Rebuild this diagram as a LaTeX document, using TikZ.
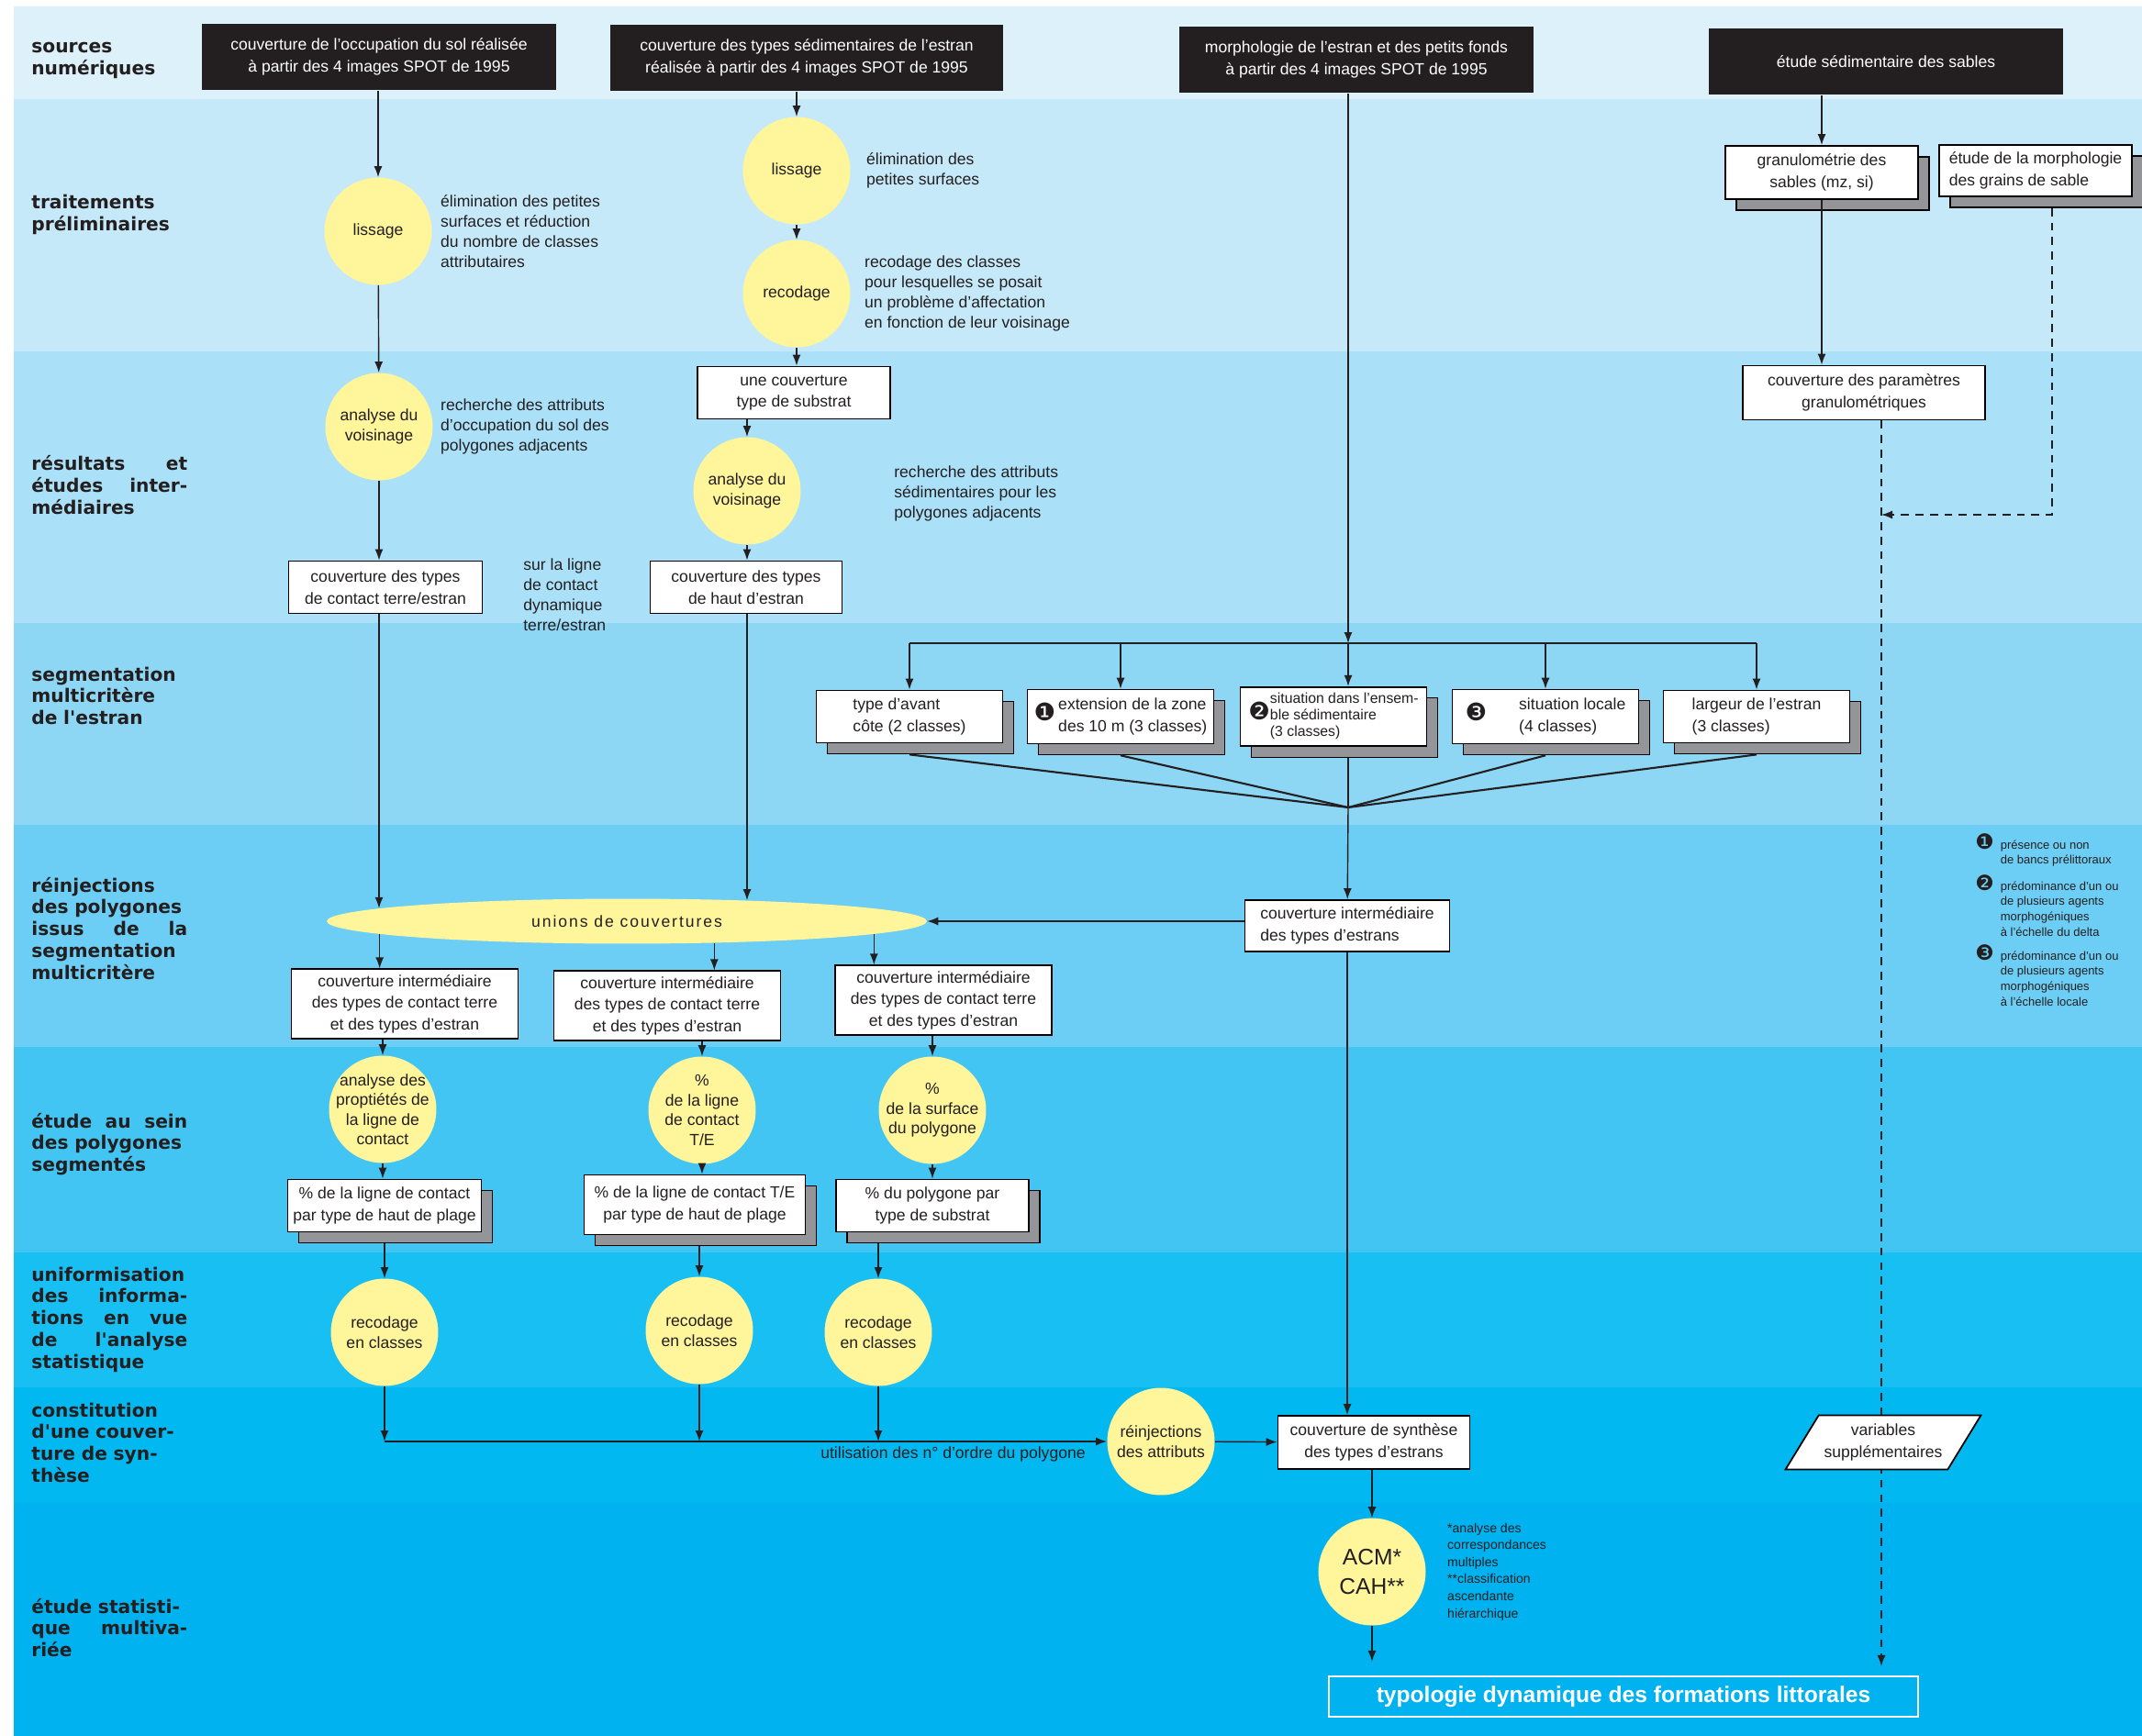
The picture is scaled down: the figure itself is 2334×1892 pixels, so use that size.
\documentclass[tikz,border=0pt]{standalone}
\usepackage{fontspec}
\setmainfont{Liberation Sans}
\newfontfamily\headfont{DejaVu Sans}
\newfontfamily\dingfont{DejaVu Sans}
\usetikzlibrary{arrows.meta,positioning,calc,shapes.geometric,shadows}
\definecolor{BandA}{RGB}{221,241,251}
\definecolor{BandB}{RGB}{198,233,249}
\definecolor{BandC}{RGB}{171,225,248}
\definecolor{BandD}{RGB}{141,215,245}
\definecolor{BandE}{RGB}{109,206,245}
\definecolor{BandF}{RGB}{66,197,243}
\definecolor{BandG}{RGB}{24,191,242}
\definecolor{BandH}{RGB}{2,184,240}
\definecolor{BandI}{RGB}{0,178,239}
\definecolor{Yel}{RGB}{255,245,154}
\definecolor{SrcBlack}{RGB}{35,31,32}
\definecolor{ShadowGray}{RGB}{147,149,152}
\newcommand{\dg}[1]{{\dingfont\fontsize{15}{15}\selectfont #1}}
\newcommand{\legbul}[1]{{\dingfont\fontsize{13}{13}\selectfont #1}\hspace{4pt}}
\tikzset{
  head/.style={anchor=base west,text width=3.4cm,align=left,inner sep=0pt,text=SrcBlack,
               font=\headfont\bfseries\fontsize{11.5}{13.6}\selectfont},
  src/.style={rectangle,fill=SrcBlack,text=white,minimum width=7.74cm,minimum height=1.46cm,
              align=center,font=\fontsize{10}{13.6}\selectfont},
  proc/.style={circle,fill=Yel,minimum size=2.34cm,inner sep=-.8cm,align=center,
               text=SrcBlack,font=\fontsize{10}{12.2}\selectfont},
  box/.style={rectangle,draw=black,line width=1pt,fill=white,align=center,text=SrcBlack,
              minimum height=1.14cm,font=\fontsize{10}{13.4}\selectfont},
  sbox/.style={box,drop shadow={shadow xshift=.24cm,shadow yshift=-.24cm,opacity=1,
               fill=ShadowGray,draw=black,line width=.8pt}},
  note/.style={align=left,inner sep=0pt,text=SrcBlack,font=\fontsize{10}{12.5}\selectfont},
  small/.style={align=left,inner sep=0pt,text=SrcBlack,font=\fontsize{8}{10.6}\selectfont},
  legtxt/.style={anchor=base west,inner sep=0pt,text=SrcBlack,font=\fontsize{7.4}{9.6}\selectfont},
  arr/.style={-{Latex[length=2.4mm,width=1.8mm]},line width=.8pt,SrcBlack},
  bus/.style={line width=1.2pt,SrcBlack},
  dasharr/.style={arr,dash pattern=on 5pt off 4pt},
}
\begin{document}
\begin{tikzpicture}[x=0.02cm,y=-0.02cm]
  \fill[white] (0,0) rectangle (2334,1892);
  \useasboundingbox (0,0) rectangle (2334,1892);
  % bandes
  \fill[BandA] (15,7) rectangle (2334,108);
  \fill[BandB] (15,108) rectangle (2334,383);
  \fill[BandC] (15,383) rectangle (2334,679);
  \fill[BandD] (15,679) rectangle (2334,899);
  \fill[BandE] (15,899) rectangle (2334,1141);
  \fill[BandF] (15,1141) rectangle (2334,1365);
  \fill[BandG] (15,1365) rectangle (2334,1512);
  \fill[BandH] (15,1512) rectangle (2334,1638);
  \fill[BandI] (15,1638) rectangle (2334,1892);

  % titres des bandes
  \node[head] (h1) at (34,58) {sources\\numériques};
  \node[head] (h2) at (34,228) {traitements\\préliminaires};
  \node[head] (h3) at (34,513) {résultats\hfill et\\études\hfill inter-\\médiaires};
  \node[head] (h4) at (34,742) {segmentation\\multicritère\\de l'estran};
  \node[head] (h5) at (34,972) {réinjections\\des polygones\\issus\hfill de\hfill la\\segmentation\\multicritère};
  \node[head] (h6) at (34,1229) {étude\hfill au\hfill sein\\des polygones\\segmentés};
  \node[head] (h7) at (34,1396) {uniformisation\\des\hfill informa-\\tions\hfill en\hfill vue\\de\hfill l'analyse\\statistique};
  \node[head] (h8) at (34,1544) {constitution\\d'une couver-\\ture de syn-\\thèse};
  \node[head] (h9) at (34,1758) {étude statisti-\\que\hfill multiva-\\riée};

  % sources
  \node[src] (src1) at (413,62) {couverture de l'occupation du sol réalisée\\à partir des 4 images SPOT de 1995};
  \node[src,minimum width=8.56cm] (src2) at (879,63) {couverture des types sédimentaires de l'estran\\réalisée à partir des 4 images SPOT de 1995};
  \node[src] (src3) at (1478,65) {morphologie de l'estran et des petits fonds\\à partir des 4 images SPOT de 1995};
  \node[src] (src4) at (2055,67) {étude sédimentaire des sables};

  % colonne occupation du sol
  \node[proc] (lis1) at (412,252) {lissage};
  \node[note,right=.18cm of lis1] (elim1) {élimination des petites\\surfaces et réduction\\du nombre de classes\\attributaires};
  \node[proc] (vois1) at (413,465) {analyse du\\voisinage};
  \node[note,right=.16cm of vois1] (rech1) {recherche des attributs\\d'occupation du sol des\\polygones adjacents};
  \node[box,minimum width=4.22cm] (cont) at (420,640) {couverture des types\\de contact terre/estran};
  \node[note,anchor=west] (surla) at (570,648) {sur la ligne\\de contact\\dynamique\\terre/estran};

  % colonne types sedimentaires
  \node[proc] (lis2) at (868,186) {lissage};
  \node[note,right=.34cm of lis2] (elim2) {élimination des\\petites surfaces};
  \node[proc] (rec0) at (868,320) {recodage};
  \node[note,right=.3cm of rec0] (recod) {recodage des classes\\pour lesquelles se posait\\un problème d'affectation\\en fonction de leur voisinage};
  \node[box,minimum width=4.2cm] (subs) at (865,428) {une couverture\\type de substrat};
  \node[proc] (vois2) at (814,535) {analyse du\\voisinage};
  \node[note,anchor=west] (rech2) at (974,538) {recherche des attributs\\sédimentaires pour les\\polygones adjacents};
  \node[box,minimum width=4.18cm] (haut) at (813,640) {couverture des types\\de haut d'estran};

  % segmentation multicritere
  \node[sbox,minimum width=4.06cm,align=left] (seg1) at (991,781) {type d'avant\\côte (2 classes)};
  \node[sbox,minimum width=4.06cm] (seg2) at (1221,781) {\dg{❶}\,\begin{tabular}{@{}l@{}}extension de la zone\\des 10 m (3 classes)\end{tabular}};
  \node[sbox,minimum width=4.06cm,font=\fontsize{9}{10}\selectfont] (seg3) at (1453,781) {\dg{❷}\begin{tabular}{@{}l@{}}situation dans l'ensem-\\ble sédimentaire\\(3 classes)\end{tabular}};
  \node[sbox,minimum width=4.06cm] (seg4) at (1684,781) {\dg{❸}\hspace{.7cm}\begin{tabular}{@{}l@{}}situation locale\\(4 classes)\end{tabular}};
  \node[sbox,minimum width=4.06cm,align=left] (seg5) at (1914,781) {largeur de l'estran\\(3 classes)};
  \node[box,minimum width=4.46cm,minimum height=1.12cm,align=left] (inter) at (1468,1009) {couverture intermédiaire\\des types d'estrans};

  % legende
  \node[legtxt] (leg1) at (2152,925) {\legbul{❶}\begin{tabular}[t]{@{}l@{}}présence ou non\\de bancs prélittoraux\end{tabular}};
  \node[legtxt] (leg2) at (2152,970) {\legbul{❷}\begin{tabular}[t]{@{}l@{}}prédominance d'un ou\\de plusieurs agents\\morphogéniques\\à l'échelle du delta\end{tabular}};
  \node[legtxt] (leg3) at (2152,1046) {\legbul{❸}\begin{tabular}[t]{@{}l@{}}prédominance d'un ou\\de plusieurs agents\\morphogéniques\\à l'échelle locale\end{tabular}};

  % reinjections
  \node[ellipse,fill=Yel,minimum width=13.08cm,minimum height=.98cm,inner sep=0pt,text=SrcBlack,
        font=\addfontfeature{LetterSpace=11}\fontsize{10}{12}\selectfont] (unions) at (683,1004) {unions de couvertures};
  \node[box,minimum width=4.94cm,minimum height=1.48cm] (int1) at (441,1094) {couverture intermédiaire\\des types de contact terre\\et des types d'estran};
  \node[box,minimum width=4.94cm,minimum height=1.48cm] (int2) at (727,1096) {couverture intermédiaire\\des types de contact terre\\et des types d'estran};
  \node[box,minimum width=4.72cm,minimum height=1.5cm] (int3) at (1028,1090) {couverture intermédiaire\\des types de contact terre\\et des types d'estran};

  % etude au sein des polygones
  \node[proc] (ana) at (417,1209) {analyse des\\proptiétés de\\la ligne de\\contact};
  \node[proc] (pct1) at (765,1210) {\%\\de la ligne\\de contact\\T/E};
  \node[proc] (pct2) at (1016,1210) {\%\\de la surface\\du polygone};
  \node[sbox,minimum width=4.2cm] (pc1) at (419,1314) {\% de la ligne de contact\\par type de haut de plage};
  \node[sbox,minimum width=4.82cm,minimum height=1.3cm] (pc2) at (757,1313) {\% de la ligne de contact T/E\\par type de haut de plage};
  \node[sbox,minimum width=4.2cm] (pc3) at (1016,1314) {\% du polygone par\\type de substrat};
  \coordinate (pc1s) at ([yshift=-.24cm]pc1.south);
  \coordinate (pc2s) at ([yshift=-.24cm]pc2.south);
  \coordinate (pc3s) at ([yshift=-.24cm]pc3.south);

  % uniformisation et synthese
  \node[proc] (rc1) at (419,1452) {recodage\\en classes};
  \node[proc] (rc2) at (762,1450) {recodage\\en classes};
  \node[proc] (rc3) at (957,1452) {recodage\\en classes};
  \node[proc] (reinj) at (1265,1571) {réinjections\\des attributs};
  \node[note,anchor=east] (util) at (1183,1585) {utilisation des n° d'ordre du polygone};
  \node[box,minimum width=4.18cm,minimum height=1.16cm] (synth) at (1497,1572) {couverture de synthèse\\des types d'estrans};
  \node[proc,font=\fontsize{14}{18}\selectfont] (acm) at (1495,1713) {ACM*\\CAH**};
  \node[small,right=.46cm of acm] (foot) {*analyse des\\correspondances\\multiples\\**classification\\ascendante\\hiérarchique};
  \node[rectangle,draw=white,line width=1.2pt,minimum width=12.84cm,minimum height=.88cm,text=white,
        font=\bfseries\fontsize{14}{16}\selectfont] (final) at (1769,1849) {typologie dynamique des formations littorales};

  % sables
  \node[sbox,minimum width=4.2cm,minimum height=1.16cm] (gran) at (1985,188) {granulométrie des\\sables (mz, si)};
  \node[sbox,minimum width=4.2cm,minimum height=1.12cm,align=left] (morph) at (2218,186) {étude de la morphologie\\des grains de sable};
  \node[box,minimum width=5.28cm,minimum height=1.18cm] (param) at (2031,428) {couverture des paramètres\\granulométriques};
  \coordinate (djoin) at (2050,561);

  % liaisons occupation du sol
  \draw[arr] (src1.south -| lis1) -- (lis1);
  \draw[arr] (lis1) -- (vois1);
  \draw[arr] (vois1) -- (vois1 |- cont.north);
  \draw[arr] (cont.south -| vois1) -- (vois1 |- unions.177);

  % liaisons types sedimentaires
  \draw[arr] (src2.south -| lis2) -- (lis2);
  \draw[arr] (lis2) -- (rec0);
  \draw[arr] (rec0) -- (rec0 |- subs.north);
  \draw[arr] (subs.south -| vois2) -- (vois2);
  \draw[arr] (vois2) -- (vois2 |- haut.north);
  \draw[arr] (haut.south -| vois2) -- (vois2 |- unions.10);

  % liaisons morphologie
  \coordinate (fork) at (1469,701);
  \coordinate (conv) at (1469,880);
  \draw[arr] (src3.south -| fork) -- (fork);
  \draw[bus] (seg1 |- fork) -- (seg5 |- fork);
  \foreach \s in {seg1,seg2,seg4,seg5}
    \draw[arr] (\s |- fork) -- (\s.north);
  \draw[arr] (fork) -- (fork |- seg3.north);
  \foreach \s in {seg1,seg2,seg4,seg5}
    \draw[bus] ([yshift=-.24cm]\s.south) -- (conv);
  \draw[bus] ([yshift=-.24cm]seg3.south -| conv) -- (conv);
  \draw[arr] (conv) -- (inter);
  \draw[arr] (inter.west |- unions.east) -- (unions.east);

  % liaisons reinjections
  \draw[arr] (unions.183) -- (unions.183 |- int1.north);
  \draw[arr] (unions.346) -- (unions.346 |- int2.north);
  \draw[arr] (unions.357) -- (unions.357 |- int3.north);
  \draw[arr] (int1.south -| ana) -- (ana);
  \draw[arr] (int2.south -| pct1) -- (pct1);
  \draw[arr] (int3.south -| pct2) -- (pct2);
  \draw[arr] (ana) -- (ana |- pc1.north);
  \draw[arr] (pct1) -- (pct1 |- pc2.north);
  \draw[arr] (pct2) -- (pct2 |- pc3.north);
  \draw[arr] (pc1s -| rc1) -- (rc1);
  \draw[arr] (pc2s -| rc2) -- (rc2);
  \draw[arr] (pc3s -| rc3) -- (rc3);

  % liaisons synthese
  \draw[arr] (rc1) -- (rc1 |- reinj);
  \draw[arr] (rc2) -- (rc2 |- reinj);
  \draw[arr] (rc3) -- (rc3 |- reinj);
  \draw[arr,line width=1.2pt] (rc1 |- reinj) -- (reinj);
  \draw[arr] (reinj) -- (synth);
  \draw[arr] (inter.south) -- (inter.south |- synth.north);
  \draw[arr] (synth.south -| acm) -- (acm);
  \draw[arr,shorten >=.3cm] (acm) -- (acm |- final.north);

  % liaisons sables
  \draw[arr] (src4.south -| gran) -- (gran);
  \draw[arr] (gran.south) -- (gran |- param.north);
  \draw[dasharr] ([xshift=.36cm,yshift=-.24cm]morph.south) |- (djoin);
  \draw[dasharr,shorten >=.2cm] (param.south -| djoin) -- (djoin |- final.north);
  \node[trapezium,trapezium left angle=55,trapezium right angle=125,trapezium stretches=true,
        draw=black,line width=1pt,fill=white,minimum width=4.08cm,minimum height=1.18cm,
        align=center,text=SrcBlack,font=\fontsize{10}{13.4}\selectfont] (vars) at (2052,1572) {variables\\supplémentaires};
\end{tikzpicture}
\end{document}
